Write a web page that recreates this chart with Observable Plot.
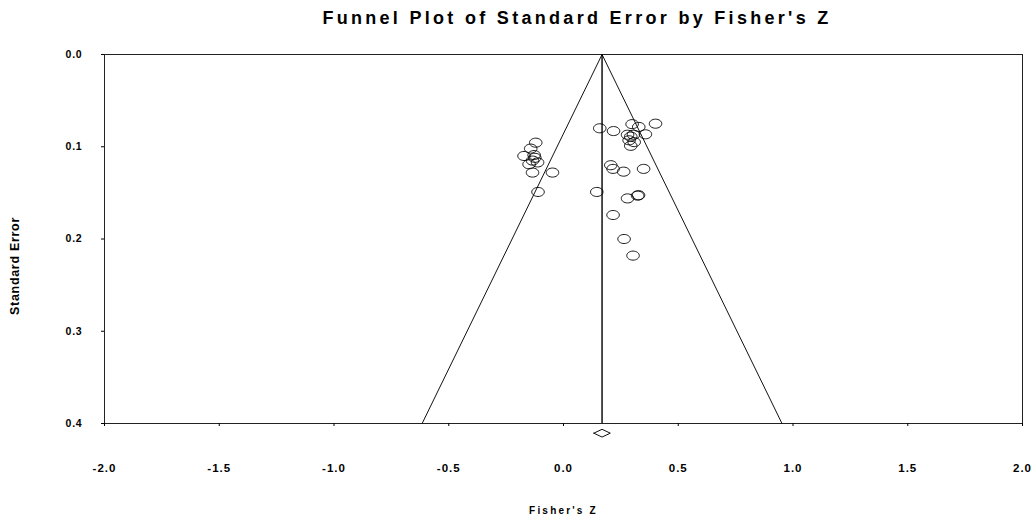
<!DOCTYPE html>
<html>
<head>
<meta charset="utf-8">
<script src="https://cdn.jsdelivr.net/npm/d3@7"></script>
<script src="https://cdn.jsdelivr.net/npm/@observablehq/plot@0.6"></script>
<style>
  body { margin: 0; background: white; font-family: "Liberation Sans", Arial, sans-serif; }
  #title { height: 36px; line-height: 37px; width: 1033px; box-sizing: border-box; padding-left: 121px;
           text-align: center; font-weight: bold; font-size: 18px; letter-spacing: 3.3px; color: #000; }
  svg text { font-family: "Liberation Sans", Arial, sans-serif; fill: #000; }
  g[aria-label="x-axis tick label"] { font-size: 11.5px; font-weight: bold; letter-spacing: 1px; }
  g[aria-label="y-axis tick label"] { font-size: 10.5px; font-weight: bold; letter-spacing: 0.8px; }
  g[aria-label="x-axis label"] { font-size: 10px; font-weight: bold; letter-spacing: 2.2px; }
  g[aria-label="y-axis label"] { font-size: 12.5px; font-weight: bold; letter-spacing: 0.7px; }
</style>
</head>
<body>
<div id="title">Funnel Plot of Standard Error by Fisher's Z</div>
<div id="chart"></div>
<script>
// Study estimates (Fisher's Z) and standard errors
const studyZ  = [0.158, 0.218, 0.299, 0.401, 0.328, 0.357, 0.279, 0.293, 0.305, 0.286, 0.308, 0.293,
                 -0.121, -0.143, -0.172, -0.128, -0.125, -0.135, -0.113, -0.150, -0.135, -0.048, -0.111,
                 0.206, 0.216, 0.262, 0.349, 0.145, 0.279, 0.323, 0.327, 0.216, 0.264, 0.303];
const studySE = [0.080, 0.083, 0.0755, 0.075, 0.0785, 0.0865, 0.087, 0.089, 0.087, 0.093, 0.095, 0.099,
                 0.0956, 0.102, 0.110, 0.109, 0.112, 0.115, 0.117, 0.119, 0.128, 0.128, 0.149,
                 0.120, 0.124, 0.127, 0.124, 0.149, 0.156, 0.153, 0.1525, 0.174, 0.200, 0.218];

// Combined effect and funnel (95% limits)
const combinedZ = 0.168;
const funnelZ  = [-0.616, 0.168, 0.952];
const funnelSE = [0.4, 0, 0.4];

// Summary diamond (combined estimate with its CI), drawn below the axis
const diamondZ  = [0.132, 0.168, 0.204, 0.168, 0.132];
const diamondSE = [0.4105, 0.4063, 0.4105, 0.4147, 0.4105];

const xTicks = [-2.0, -1.5, -1.0, -0.5, 0.0, 0.5, 1.0, 1.5, 2.0];
const yTicks = [0.0, 0.1, 0.2, 0.3, 0.4];

const studies = studyZ.map((z, i) => ({z, se: studySE[i]}));
const funnel = funnelZ.map((z, i) => ({z, se: funnelSE[i]}));
const diamond = diamondZ.map((z, i) => ({z, se: diamondSE[i]}));

const ellipse = {
  draw(context, size) {
    const r = Math.sqrt(size / Math.PI);
    const rx = r * 1.16, ry = r * 0.84, k = 0.5523;
    context.moveTo(rx, 0);
    context.bezierCurveTo(rx, ry * k, rx * k, ry, 0, ry);
    context.bezierCurveTo(-rx * k, ry, -rx, ry * k, -rx, 0);
    context.bezierCurveTo(-rx, -ry * k, -rx * k, -ry, 0, -ry);
    context.bezierCurveTo(rx * k, -ry, rx, -ry * k, rx, 0);
    context.closePath();
  }
};

const fmt = d => d.toFixed(1);

const chart = Plot.plot({
  width: 1033,
  height: 484,
  marginTop: 18,
  marginBottom: 97,
  marginLeft: 104,
  marginRight: 11,
  x: {domain: [-2, 2]},
  y: {domain: [0, 0.4], reverse: true},
  marks: [
    Plot.frame({stroke: "#222", strokeWidth: 1}),
    Plot.axisX({ticks: xTicks, tickFormat: fmt, tickSize: 3, tickPadding: 37,
                label: "Fisher's Z", labelAnchor: "center", labelOffset: 90, labelArrow: "none"}),
    Plot.axisY({ticks: yTicks, tickFormat: fmt, tickSize: 3, tickPadding: 19,
                label: "Standard Error", labelAnchor: "center", labelOffset: 94, labelArrow: "none"}),
    Plot.line(funnel, {x: "z", y: "se", stroke: "#111", strokeWidth: 1}),
    Plot.ruleX([combinedZ], {y1: 0, y2: 0.4, stroke: "#000", strokeWidth: 1.4}),
    Plot.dot(studies, {x: "z", y: "se", r: 5.4, symbol: ellipse, stroke: "#000", strokeWidth: 0.9, fill: "none"}),
    Plot.line(diamond, {x: "z", y: "se", stroke: "#111", strokeWidth: 1})
  ]
});
// the reference's y-axis title sits a little below the middle of the frame
d3.select(chart).select('g[aria-label="y-axis label"]').attr("transform", function () {
  return ((this.getAttribute("transform") || "") + " translate(0,27)").trim();
});
document.getElementById("chart").appendChild(chart);
</script>
</body>
</html>
